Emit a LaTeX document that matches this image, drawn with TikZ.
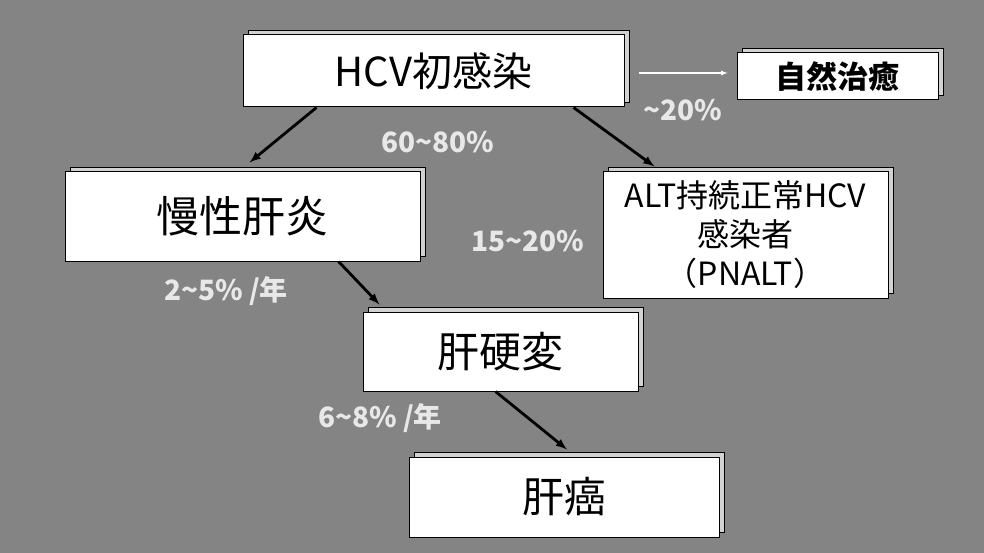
\documentclass[tikz,border=0pt]{standalone}
\usepackage{fontspec}
\setmainfont{Noto Sans CJK JP}
\usetikzlibrary{arrows}
\usetikzlibrary{shadows}

\definecolor{bggray}{RGB}{132,132,132}
\definecolor{lblgray}{RGB}{232,232,232}
\newcommand{\tld}{{\char"7E}}

\tikzset{
  box/.style={draw=black, line width=1pt, fill=white, inner sep=0pt,
    copy shadow={shadow xshift=5pt, shadow yshift=5pt, fill=gray!35, draw=black, line width=0.5pt}},
  pct/.style={text=lblgray, font=\bfseries\fontsize{28}{30}\selectfont, inner sep=0pt},
  flow/.style={->, draw=black, line width=2.8pt},
  thinflow/.style={->, draw=white, line width=1.2pt}
}

\begin{document}
\begin{tikzpicture}[x=1pt, y=-1pt, >=latex]
        \fill[bggray] (0,0) rectangle (984,553);
        \useasboundingbox (0,0) rectangle (984,553);
        % boxes
        \node [box,minimum width=381pt,minimum height=72pt,font=\fontsize{40}{44}\selectfont] (hcv) at (433.5,71) {HCV初感染};
        \node [box,minimum width=201pt,minimum height=47pt,font=\bfseries\fontsize{31}{34}\selectfont] (shizen) at (837.5,76.5) {自然治癒};
        \node [box,minimum width=355pt,minimum height=89pt,font=\fontsize{43}{46}\selectfont] (mansei) at (242.5,216.5) {慢性肝炎};
        \node [box,minimum width=285pt,minimum height=126pt,align=center,font=\fontsize{32}{39}\selectfont] (alt) at (745.5,235) {ALT持続正常HCV\\感染者\\（PNALT）};
        \node [box,minimum width=275pt,minimum height=79pt,font=\fontsize{42}{46}\selectfont] (kouhen) at (500.5,351.5) {肝硬変};
        \node [box,minimum width=310pt,minimum height=80pt,font=\fontsize{42}{46}\selectfont] (gan) at (564,497) {肝癌};
        % percentages
        \node [pct] (p6080) at (438,142) {60\tld80\%};
        \node [pct] (p20) at (683,110) {\tld20\%};
        \node [pct] (p1520) at (528,241) {15\tld20\%};
        \node [pct] (p25) at (226,291) {2\tld5\% /年};
        \node [pct] (p68) at (380,418) {6\tld8\% /年};
        % arrows
        \draw[thinflow] ([xshift=14pt,yshift=-2pt]hcv.east) -- ([xshift=-9pt,yshift=3.5pt]shizen.west);
        \draw[flow] ([xshift=74pt]hcv.south west) -- ([xshift=185pt,yshift=9pt]mansei.north west);
        \draw[flow] ([xshift=-51pt]hcv.south east) -- ([xshift=52pt,yshift=5pt]alt.north west);
        \draw[flow] ([xshift=-82pt]mansei.south east) -- ([xshift=17pt,yshift=7pt]kouhen.north west);
        \draw[flow] ([xshift=-5pt]kouhen.south) -- ([xshift=3pt,yshift=7pt]gan.north);
    \end{tikzpicture}
\end{document}
